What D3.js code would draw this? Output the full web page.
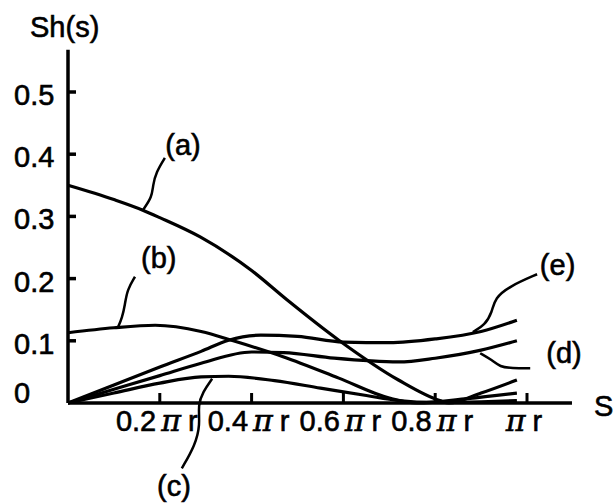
<!DOCTYPE html>
<html>
<head>
<meta charset="utf-8">
<script src="https://cdn.jsdelivr.net/npm/d3@7"></script>
<style>
  body { margin: 0; background: #fff; }
  text { font-family: "Liberation Sans", Arial, sans-serif; fill: #000; stroke: #000; stroke-width: 0.6px; }
</style>
</head>
<body>
<div id="chart"></div>
<script>
// Set dimensions
var w = 616;
var h = 504;

// x in units of pi*r, y is Sh(s)
var yTicks = [0, 0.1, 0.2, 0.3, 0.4, 0.5];
var xTicks = [0.2, 0.4, 0.6, 0.8, 1.0];
var xTickLabels = ["0.2", "0.4", "0.6", "0.8", ""];

var curveA = [[0, 0.35], [0.1, 0.327], [0.163, 0.31], [0.2, 0.298], [0.288, 0.267], [0.4, 0.213],
              [0.477, 0.166], [0.59, 0.101], [0.72, 0.037], [0.81, 0.004], [0.83, 0.0], [0.9, 0.016], [0.978, 0.037]];
var curveB = [[0, 0.113], [0.1, 0.121], [0.19, 0.125], [0.29, 0.115], [0.36, 0.1], [0.47, 0.074],
              [0.59, 0.04], [0.7, 0.008], [0.76, 0.0], [0.87, 0.007], [0.978, 0.016]];
var curveC = [[0, 0], [0.1, 0.016], [0.2, 0.032], [0.29, 0.042], [0.35, 0.043], [0.45, 0.036],
              [0.55, 0.024], [0.65, 0.012], [0.72, 0.004], [0.8, 0.001], [0.9, 0.002], [0.978, 0.004]];
var curveD = [[0, 0], [0.1, 0.022], [0.2, 0.044], [0.29, 0.064], [0.4, 0.082], [0.47, 0.081],
              [0.58, 0.072], [0.72, 0.066], [0.8, 0.072], [0.9, 0.085], [0.978, 0.1]];
var curveE = [[0, 0], [0.1, 0.029], [0.2, 0.058], [0.29, 0.083], [0.35, 0.101], [0.42, 0.109],
              [0.5, 0.107], [0.6, 0.098], [0.7, 0.097], [0.8, 0.103], [0.9, 0.115], [0.978, 0.133]];

// curve labels with leader lines (data coords)
var labels = [
    { name: "(a)", pos: [0.212, 0.399], leader: [[0.211, 0.394], [0.192, 0.371], [0.185, 0.35], [0.183, 0.331], [0.163, 0.31]] },
    { name: "(b)", pos: [0.159, 0.217], leader: [[0.146, 0.203], [0.129, 0.182], [0.124, 0.158], [0.118, 0.137], [0.109, 0.122]] },
    { name: "(c)", pos: [0.194, -0.150], leader: [[0.248, -0.105], [0.277, -0.068], [0.288, -0.035], [0.283, -0.003], [0.294, 0.018], [0.314, 0.039]] },
    { name: "(d)", pos: [1.042, 0.064], leader: [[0.898, 0.08], [0.924, 0.069], [0.941, 0.058], [0.967, 0.056], [1.007, 0.056]] },
    { name: "(e)", pos: [1.028, 0.206], leader: [[1.022, 0.207], [0.963, 0.188], [0.93, 0.169], [0.924, 0.146], [0.908, 0.125], [0.882, 0.114]] }
];

var xScale = d3.scaleLinear().domain([0, 1]).range([68, 527]);
var yScale = d3.scaleLinear().domain([0, 0.5]).range([403, 92]);

var svg = d3.select("#chart")
    .append("svg")
    .attr("width", w)
    .attr("height", h);

// axes
svg.append("line")
    .attr("x1", xScale(0)).attr("y1", yScale(0))
    .attr("x2", xScale(0)).attr("y2", yScale(0.568))
    .attr("stroke", "#000").attr("stroke-width", 3.5);
svg.append("line")
    .attr("x1", xScale(0)).attr("y1", yScale(0))
    .attr("x2", xScale(1.098)).attr("y2", yScale(0))
    .attr("stroke", "#000").attr("stroke-width", 3.5);

// y ticks (inward)
svg.selectAll(".ytick")
    .data(yTicks.slice(1))
    .enter()
    .append("line")
    .attr("x1", xScale(0)).attr("x2", xScale(0) + 8)
    .attr("y1", function(d) { return yScale(d); })
    .attr("y2", function(d) { return yScale(d); })
    .attr("stroke", "#000").attr("stroke-width", 3.5);

svg.selectAll(".ylab")
    .data(yTicks)
    .enter()
    .append("text")
    .attr("x", 14)
    .attr("y", function(d) { return d === 0 ? yScale(d) : yScale(d) + 13; })
    .style("font-size", "29px")
    .text(function(d) { return d === 0 ? "0" : d3.format(".1f")(d); });

// x ticks (inward)
svg.selectAll(".xtick")
    .data(xTicks)
    .enter()
    .append("line")
    .attr("x1", function(d) { return xScale(d); })
    .attr("x2", function(d) { return xScale(d); })
    .attr("y1", yScale(0)).attr("y2", yScale(0) - 10)
    .attr("stroke", "#000").attr("stroke-width", 3);

var xl = svg.selectAll(".xlab")
    .data(xTicks)
    .enter()
    .append("text")
    .attr("x", function(d) { return xScale(d) - 3; })
    .attr("y", 431)
    .attr("text-anchor", "middle")
    .style("font-size", "29px");
xl.append("tspan").text(function(d, i) { return xTickLabels[i]; });
xl.append("tspan").attr("dx", function(d, i) { return xTickLabels[i] ? 5 : 0; })
    .style("font-style", "italic").style("font-family", "'DejaVu Serif', serif").style("font-size", "30px").text("π");
xl.append("tspan").attr("dx", 7).text("r");

svg.append("text").attr("x", 30).attr("y", 37).style("font-size", "29px").text("Sh(s)");
svg.append("text").attr("x", 594).attr("y", 416).style("font-size", "29px").text("S");

// curves
var line = d3.line()
    .x(function(d) { return xScale(d[0]); })
    .y(function(d) { return yScale(d[1]); })
    .curve(d3.curveMonotoneX);

svg.selectAll(".curve")
    .data([curveA, curveB, curveC, curveD, curveE])
    .enter()
    .append("path")
    .attr("d", line)
    .attr("fill", "none")
    .attr("stroke", "#000")
    .attr("stroke-width", 3.2);

// leaders
var leader = d3.line()
    .x(function(d) { return xScale(d[0]); })
    .y(function(d) { return yScale(d[1]); })
    .curve(d3.curveBasis);

svg.selectAll(".leader")
    .data(labels)
    .enter()
    .append("path")
    .attr("d", function(d) { return leader(d.leader); })
    .attr("fill", "none")
    .attr("stroke", "#000")
    .attr("stroke-width", 2.5);

svg.selectAll(".clabel")
    .data(labels)
    .enter()
    .append("text")
    .attr("x", function(d) { return xScale(d.pos[0]); })
    .attr("y", function(d) { return yScale(d.pos[1]); })
    .style("font-size", "29px")
    .text(function(d) { return d.name; });
</script>
</body>
</html>
